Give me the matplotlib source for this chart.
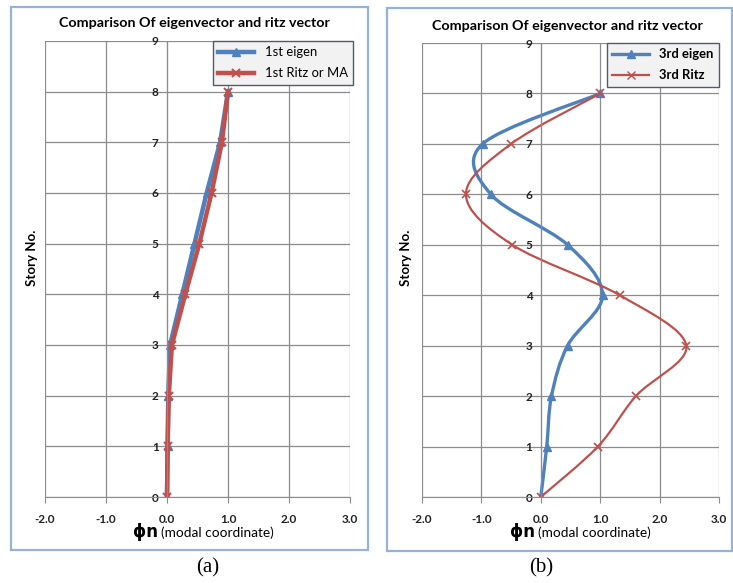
"""
Comparison of eigenvectors and Ritz vectors along the storeys.
Two panels: (a) first mode, (b) third mode.
"""

import matplotlib
matplotlib.use("Agg")
import matplotlib.pyplot as plt
import numpy as np
from matplotlib.patches import PathPatch, Rectangle
from matplotlib.path import Path

stories = [0, 1, 2, 3, 4, 5, 6, 7, 8]

eigen_1 = [0.0, 0.01, 0.02, 0.05, 0.25, 0.45, 0.65, 0.87, 1.0]
ritz_1 = [0.0, 0.01, 0.03, 0.08, 0.30, 0.53, 0.73, 0.90, 1.0]

eigen_3 = [0.0, 0.10, 0.18, 0.45, 1.04, 0.45, -0.84, -0.98, 1.0]
ritz_3 = [0.0, 0.96, 1.60, 2.45, 1.33, -0.48, -1.26, -0.50, 1.0]

x_ticks = [-2.0, -1.0, 0.0, 1.0, 2.0, 3.0]
y_ticks = [0, 1, 2, 3, 4, 5, 6, 7, 8, 9]

TITLE = "Comparison Of eigenvector and ritz vector"
BLUE = "#4F81BD"
RED = "#C0504D"
GRID = "#8c8c8c"
FRAME = "#95B3D7"
FONT = "Lato"


def smooth_path(xs, ys):
    """Excel-style smoothed line as cubic Bezier segments."""
    pts = np.column_stack([xs, ys]).astype(float)
    padded = np.vstack([pts[0], pts, pts[-1]])
    verts = [pts[0]]
    codes = [Path.MOVETO]
    for i in range(len(pts) - 1):
        p0, p1, p2, p3 = padded[i], padded[i + 1], padded[i + 2], padded[i + 3]
        c1 = p1 + (p2 - p0) / 6.0
        c2 = p2 - (p3 - p1) / 6.0
        verts += [c1, c2, p2]
        codes += [Path.CURVE4] * 3
    return Path(verts, codes)


def style_axes(ax):
    ax.set_xlim(-2, 3)
    ax.set_ylim(0, 9)
    ax.set_xticks(x_ticks)
    ax.set_yticks(y_ticks)
    ax.set_xticklabels([f"{t:.1f}" for t in x_ticks])
    ax.grid(True, color=GRID, linewidth=0.9)
    ax.set_axisbelow(True)
    for side in ["top", "right"]:
        ax.spines[side].set_visible(False)
    ax.spines["left"].set_position(("data", 0))
    ax.spines["left"].set_color(GRID)
    ax.spines["bottom"].set_color(GRID)
    ax.tick_params(axis="x", length=4, color=GRID, labelsize=8.5, pad=8,
                   labelcolor="#222222")
    ax.tick_params(axis="y", length=0, labelsize=8.5, pad=6,
                   labelcolor="#222222")
    for lab in ax.get_xticklabels() + ax.get_yticklabels():
        lab.set_fontfamily(FONT)
        lab.set_fontweight("bold")


def add_frame(fig, x0, y0, x1, y1):
    W, H = 733, 583
    fig.patches.append(Rectangle((x0 / W, 1 - y1 / H), (x1 - x0) / W,
                                 (y1 - y0) / H, transform=fig.transFigure,
                                 fill=False, edgecolor=FRAME, linewidth=1.6))


def add_labels(fig, cx_title, y_title, x_story, cx_xlabel):
    W, H = 733, 583
    fig.text(cx_title / W, 1 - y_title / H, TITLE, ha="center", va="center",
             fontsize=10.3, fontweight="bold", family=FONT)
    fig.text(x_story / W, 1 - 258 / H, "Story No.", rotation=90,
             ha="center", va="center", fontsize=9.5, fontweight="bold",
             family=FONT)
    fig.text(cx_xlabel / W, 1 - 532 / H, "ϕn", ha="right", va="center",
             fontsize=12, fontweight="bold", family="DejaVu Sans")
    fig.text((cx_xlabel + 3) / W, 1 - 533 / H, "(modal coordinate)",
             ha="left", va="center", fontsize=9.8, family=FONT)


fig = plt.figure(figsize=(7.33, 5.83), dpi=100)

# panel (a)
ax1 = fig.add_axes([0.0614, 0.1475, 0.4161, 0.7822])
style_axes(ax1)
ax1.plot(eigen_1, stories, color=BLUE, linewidth=3.2, marker="^",
         markersize=6, label="1st eigen")
ax1.plot(ritz_1, stories, color=RED, linewidth=3.2, marker="x",
         markersize=6, markeredgewidth=1.5, label="1st Ritz or MA")
leg1 = ax1.legend(loc="upper right", bbox_to_anchor=(1.01, 1.0),
                  borderaxespad=0, fancybox=False, framealpha=1,
                  prop={"family": FONT, "size": 9.4}, handlelength=2.8,
                  labelspacing=0.7)
leg1.get_frame().set_facecolor("#f2f2f2")
leg1.get_frame().set_edgecolor("#4f5b6b")

# panel (b)
ax2 = fig.add_axes([0.5757, 0.1475, 0.4052, 0.7787])
style_axes(ax2)
ax2.add_patch(PathPatch(smooth_path(eigen_3, stories), fill=False,
                        edgecolor=BLUE, linewidth=2.4))
ax2.add_patch(PathPatch(smooth_path(ritz_3, stories), fill=False,
                        edgecolor=RED, linewidth=1.6))
ax2.plot(eigen_3, stories, linestyle="none", color=BLUE, marker="^",
         markersize=6)
ax2.plot(ritz_3, stories, linestyle="none", color=RED, marker="x",
         markersize=6, markeredgewidth=1.2)
ax2.plot([], [], color=BLUE, linewidth=2.4, marker="^", markersize=6,
         label="3rd eigen")
ax2.plot([], [], color=RED, linewidth=1.6, marker="x", markersize=6,
         label="3rd Ritz")
leg2 = ax2.legend(loc="upper right", bbox_to_anchor=(1.0, 1.0),
                  borderaxespad=0, fancybox=False, framealpha=1,
                  prop={"family": FONT, "size": 9.4, "weight": "bold"},
                  handlelength=2.8, labelspacing=0.7)
leg2.get_frame().set_facecolor("#f2f2f2")
leg2.get_frame().set_edgecolor("#4f5b6b")

add_frame(fig, 11, 7, 368, 550)
add_frame(fig, 387, 8, 732, 551)
add_labels(fig, 194, 23, 32, 158)
add_labels(fig, 567, 26, 406, 535)

fig.text(208 / 733, 1 - 568 / 583, "(a)", ha="center", va="center",
         fontsize=15, family="Liberation Serif")
fig.text(541 / 733, 1 - 568 / 583, "(b)", ha="center", va="center",
         fontsize=15, family="Liberation Serif")

fig.savefig("out.png", dpi=100)
